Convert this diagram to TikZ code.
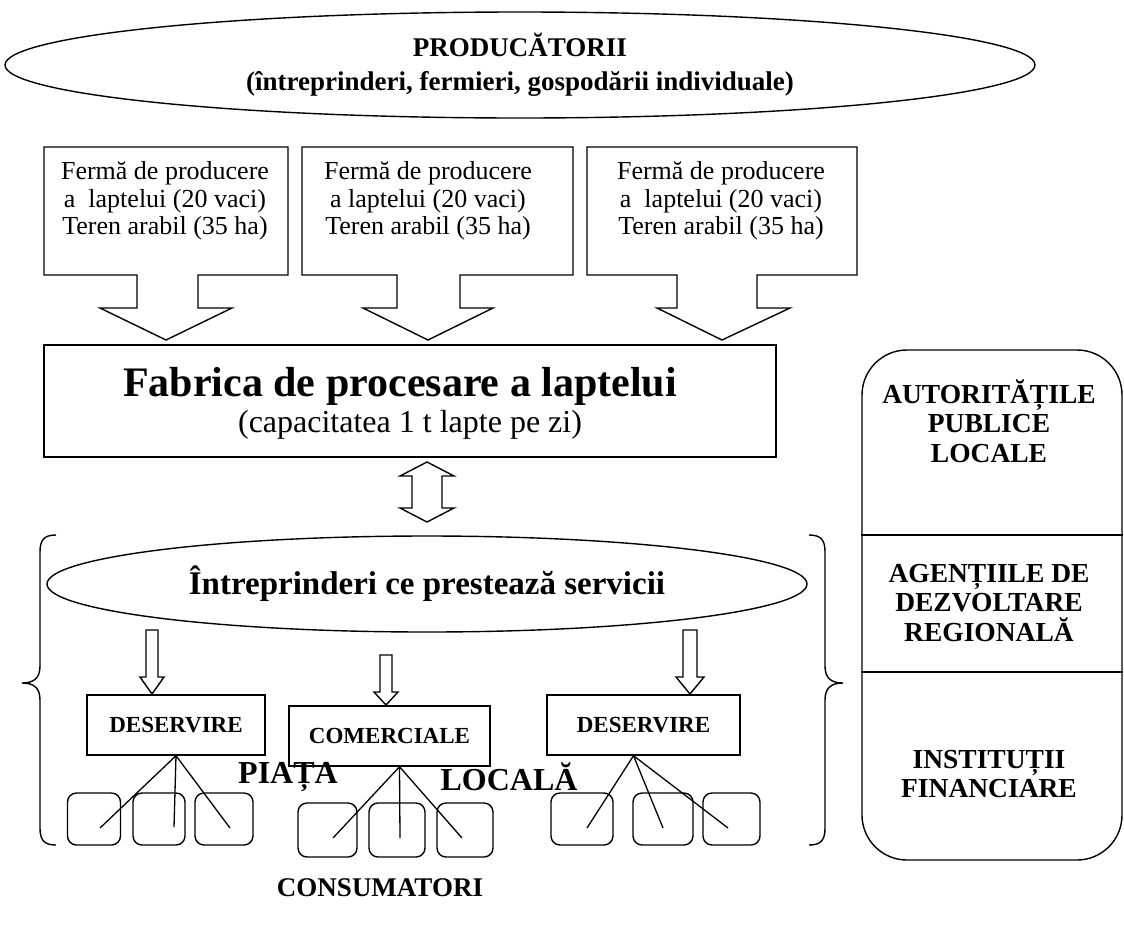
\documentclass[tikz,border=0pt]{standalone}
\usepackage{fontspec}
\setmainfont{Liberation Serif}
\usetikzlibrary{shapes.geometric,calc}
\begin{document}
\begin{tikzpicture}[x=1pt,y=-1pt,line width=1.4pt,line join=miter,
  farmtxt/.style={font=\fontsize{26}{27.5}\selectfont,align=center,inner sep=0pt},
  bigell/.style={draw,ellipse,inner sep=0pt,align=center},
  plainbox/.style={draw,inner sep=0pt,align=center},
  subbox/.style={draw,inner sep=0pt,font=\bfseries\fontsize{23}{24}\selectfont},
  cbox/.style={draw,rounded corners=9pt,inner sep=0pt,minimum height=52pt},
  paneltxt/.style={font=\bfseries\fontsize{27.5}{29.5}\selectfont,align=center,inner sep=0pt},
  fan/.style={line width=1.3pt}]
\useasboundingbox (0,0) rectangle (1124,927);

% producers ellipse
\node[bigell,minimum width=1030pt,minimum height=106pt,
      font=\bfseries\fontsize{27}{34}\selectfont] (prod) at (520,65)
  {PRODUCĂTORII\\(întreprinderi, fermieri, gospodării individuale)};

% farm callouts
\draw (44,147) -- (288,147) -- (288,275) -- (198,275) -- (198,308) -- (232,308)
  -- (166,340) -- (100,308) -- (137,308) -- (137,275) -- (44,275) -- cycle;
\draw (302,147) -- (573,147) -- (573,275) -- (460,275) -- (460,308) -- (493,308)
  -- (428,340) -- (363,308) -- (397,308) -- (397,275) -- (302,275) -- cycle;
\draw (587,147) -- (857,147) -- (857,275) -- (757,275) -- (757,308) -- (790,308)
  -- (722,340) -- (657,308) -- (677,308) -- (677,275) -- (587,275) -- cycle;
\node[farmtxt] (farm1) at (165,201) {Fermă de producere\\a\ \ laptelui (20 vaci)\\Teren arabil (35 ha)};
\node[farmtxt] (farm2) at (428,201) {Fermă de producere\\a laptelui (20 vaci)\\Teren arabil (35 ha)};
\node[farmtxt] (farm3) at (721,201) {Fermă de producere\\a\ \ laptelui (20 vaci)\\Teren arabil (35 ha)};

% processing plant
\node[plainbox,minimum width=732pt,minimum height=112pt] (fab) at (410,401) {};
\node[font=\bfseries\fontsize{42}{44}\selectfont,inner sep=0pt,anchor=base] (fabt) at (400,396) {Fabrica de procesare a laptelui};
\node[font=\fontsize{32}{34}\selectfont,inner sep=0pt,anchor=base] (fabc) at (410,432) {(capacitatea 1 t lapte pe zi)};

% double arrow
\draw (427,462) -- (454,476) -- (442,476) -- (442,508) -- (454,508) -- (427,522)
  -- (400,508) -- (412,508) -- (412,476) -- (400,476) -- cycle;

% braces
\draw (56,535) .. controls (44,535) and (40,540) .. (40,552) -- (40,666)
  .. controls (40,678) and (34,683) .. (22,683) .. controls (34,683) and (40,688) .. (40,700)
  -- (40,828) .. controls (40,840) and (44,845) .. (56,845);
\draw (809,535) .. controls (821,535) and (825,540) .. (825,552) -- (825,666)
  .. controls (825,678) and (831,683) .. (843,683) .. controls (831,683) and (825,688) .. (825,700)
  -- (825,828) .. controls (825,840) and (821,845) .. (809,845);

% services ellipse
\node[bigell,minimum width=760pt,minimum height=96pt,
      font=\bfseries\fontsize{33}{35}\selectfont] (serv) at (427,584)
  {Întreprinderi ce prestează servicii};

% small block arrows
\draw (146,630) -- (158,630) -- (158,677) -- (164,677) -- (152,694) -- (140,677) -- (146,677) -- cycle;
\draw (380,655) -- (392,655) -- (392,692) -- (398,692) -- (386,705) -- (374,692) -- (380,692) -- cycle;
\draw (683,630) -- (697,630) -- (697,677) -- (704,677) -- (690,694) -- (676,677) -- (683,677) -- cycle;

% service boxes
\node[subbox,minimum width=178pt,minimum height=60pt] (des1) at (176,725) {DESERVIRE};
\node[subbox,minimum width=201pt,minimum height=60pt] (com) at (389.5,736) {COMERCIALE};
\node[subbox,minimum width=193pt,minimum height=60pt] (des2) at (643.5,725) {DESERVIRE};

% consumer boxes
\node[cbox,minimum width=53pt] (c11) at (94,819) {};
\node[cbox,minimum width=52pt] (c12) at (159,819) {};
\node[cbox,minimum width=58pt] (c13) at (224,819) {};
\node[cbox,minimum width=59pt,minimum height=54pt] (c21) at (327.5,830) {};
\node[cbox,minimum width=56pt,minimum height=54pt] (c22) at (397,830) {};
\node[cbox,minimum width=56pt,minimum height=54pt] (c23) at (465,830) {};
\node[cbox,minimum width=62pt] (c31) at (582,819) {};
\node[cbox,minimum width=60pt] (c32) at (663,819) {};
\node[cbox,minimum width=57pt] (c33) at (731.5,819) {};

\coordinate (e11) at (100,828);
\coordinate (e12) at (174,827);
\coordinate (e13) at (230,828);
\coordinate (e21) at (333,838);
\coordinate (e22) at (400,838);
\coordinate (e23) at (462,838);
\coordinate (e31) at (587,828);
\coordinate (e32) at (663,828);
\coordinate (e33) at (728,828);

\draw[fan] (des1.south) -- (e11) (des1.south) -- (e12) (des1.south) -- (e13);
\draw[fan] ([xshift=10pt]com.south) -- (e21) ([xshift=10pt]com.south) -- (e22) ([xshift=10pt]com.south) -- (e23);
\draw[fan] ([xshift=-10pt]des2.south) -- (e31) ([xshift=-10pt]des2.south) -- (e32) ([xshift=-10pt]des2.south) -- (e33);

% market labels
\node[font=\bfseries\fontsize{32}{34}\selectfont,inner sep=0pt] (piata) at (288,777) {PIAȚA};
\node[font=\bfseries\fontsize{32}{34}\selectfont,inner sep=0pt] (locala) at (509,777) {LOCALĂ};
\node[font=\bfseries\fontsize{27}{29}\selectfont,inner sep=0pt] (cons) at (380,888) {CONSUMATORI};

% right panel
\node[draw,rounded corners=45pt,minimum width=260pt,minimum height=510pt,inner sep=0pt] (panel) at (992,605) {};
\draw (panel.west |- 0,535) -- (panel.east |- 0,535);
\draw (panel.west |- 0,672) -- (panel.east |- 0,672);
\node[paneltxt] (apl) at (989,421) {AUTORITĂȚILE\\PUBLICE\\LOCALE};
\node[paneltxt] (adr) at (989,603) {AGENȚIILE DE\\DEZVOLTARE\\REGIONALĂ};
\node[paneltxt] (ifi) at (989,774) {INSTITUȚII\\FINANCIARE};
\end{tikzpicture}
\end{document}
